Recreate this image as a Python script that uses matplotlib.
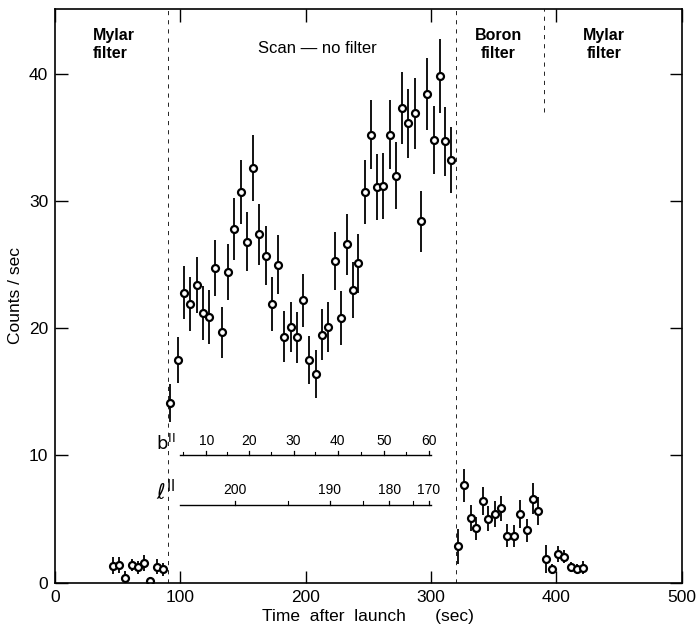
import numpy as np
import matplotlib
matplotlib.use('Agg')
import matplotlib.pyplot as plt

# Mylar filter (before scan)
t_mylar1 = [46, 51, 56, 61, 66, 71, 76, 81, 86]
c_mylar1 = [1.35, 1.4, 0.4, 1.4, 1.2, 1.55, 0.15, 1.25, 1.05]
e_mylar1 = [0.7, 0.6, 0.5, 0.5, 0.5, 0.6, 0.3, 0.6, 0.5]

# scan, no filter
t_scan = [92, 98, 103, 108, 113, 118, 123, 128, 133, 138, 143, 148, 153, 158,
          163, 168, 173, 178, 183, 188, 193, 198, 203, 208, 213, 218, 223, 228,
          233, 238, 242, 247, 252, 257, 262, 267, 272, 277, 282, 287, 292, 297,
          302, 307, 311, 316]
c_scan = [14.1, 17.5, 22.8, 21.9, 23.4, 21.2, 20.9, 24.7, 19.7, 24.4, 27.8, 30.7,
          26.8, 32.6, 27.4, 25.7, 21.9, 25.0, 19.35, 20.1, 19.3, 22.2, 17.5, 16.4,
          19.5, 20.1, 25.3, 20.8, 26.6, 23.0, 25.1, 30.7, 35.2, 31.1, 31.2, 35.2,
          32.0, 37.3, 36.1, 36.9, 28.4, 38.4, 34.8, 39.8, 34.7, 33.2]
e_scan = [1.5, 1.8, 2.1, 2.1, 2.2, 2.1, 2.1, 2.2, 2.0, 2.2, 2.4, 2.5, 2.3, 2.6,
          2.4, 2.3, 2.1, 2.3, 2.0, 2.0, 2.0, 2.1, 1.9, 1.9, 2.0, 2.0, 2.3, 2.1,
          2.4, 2.2, 2.3, 2.5, 2.7, 2.6, 2.6, 2.7, 2.6, 2.8, 2.7, 2.8, 2.4, 2.8,
          2.7, 2.9, 2.7, 2.6]

# Boron filter
t_boron = [321.5, 326.3, 331.6, 336.1, 341.1, 345.6, 350.7, 355.8, 361, 366.1,
           371.1, 376.5, 381.5, 385.7]
c_boron = [2.85, 7.65, 5.08, 4.27, 6.42, 5.03, 5.4, 5.84, 3.69, 3.67, 5.44, 4.11,
           6.6, 5.63]
e_boron = [1.4, 1.3, 1.0, 0.9, 1.1, 1.0, 1.0, 1.0, 0.9, 0.9, 1.1, 0.9, 1.2, 1.1]

# Mylar filter (after)
t_mylar2 = [391.6, 396.6, 401.4, 406.2, 411.5, 416.3, 421.3]
c_mylar2 = [1.86, 1.05, 2.25, 2.04, 1.23, 1.1, 1.18]
e_mylar2 = [1.1, 0.4, 0.6, 0.5, 0.4, 0.4, 0.5]

# galactic coordinate scales (tick value -> time)
b_major = [10, 20, 30, 40, 50, 60]
b_major_t = [120.8, 154.5, 190.3, 225.6, 262.3, 298.7]
b_minor_t = [102.2, 137.5, 172.6, 207.6, 244.3, 280.1]
l_major = [200, 190, 180, 170]
l_major_t = [143.4, 219.0, 266.8, 298.1]
l_minor_t = [185.8, 245.6, 285.4]

plt.rcParams['font.family'] = ['Liberation Sans', 'DejaVu Sans']
fig = plt.figure(figsize=(6.97, 6.3), dpi=100)
ax = fig.add_axes([0.079, 0.075, 0.899, 0.911])

style = dict(fmt='o', color='black', ecolor='black', elinewidth=1.3,
             markersize=5, markerfacecolor='white', markeredgewidth=1.6,
             capsize=0)
for t, c, e in [(t_mylar1, c_mylar1, e_mylar1), (t_scan, c_scan, e_scan),
                (t_boron, c_boron, e_boron), (t_mylar2, c_mylar2, e_mylar2)]:
    ax.errorbar(t, c, yerr=e, **style)

dash = (0, (5, 6))
ax.axvline(90, color='black', lw=0.6, ls=dash)
ax.axvline(320, color='black', lw=0.6, ls=dash)
ax.plot([390, 390], [37, 45.1], color='black', lw=0.6, ls=dash)

# b^II scale
ax.plot([100, 300], [10, 10], color='black', lw=1.0)
for t in b_major_t:
    ax.plot([t, t], [10, 10.35], color='black', lw=0.9)
for t in b_minor_t:
    ax.plot([t, t], [10, 10.25], color='black', lw=0.8)
for v, t in zip(b_major, b_major_t):
    ax.text(t, 10.6, str(v), ha='center', va='bottom', fontsize=10)
ax.text(96, 10.1, r'$\mathrm{b}^{\rm II}$', ha='right', va='bottom', fontsize=13)

# l^II scale
ax.plot([100, 300], [6.1, 6.1], color='black', lw=1.0)
for t in l_major_t:
    ax.plot([t, t], [6.1, 6.45], color='black', lw=0.9)
for t in l_minor_t:
    ax.plot([t, t], [6.1, 6.4], color='black', lw=0.8)
for v, t in zip(l_major, l_major_t):
    ax.text(t, 6.7, str(v), ha='center', va='bottom', fontsize=10)
ax.text(96, 6.2, r'$\ell^{\rm II}$', ha='right', va='bottom', fontsize=15)

# filter labels
ax.text(30, 43.6, 'Mylar\nfilter', ha='left', va='top', fontsize=11.5,
        fontweight='bold', linespacing=1.25)
ax.text(209, 42.0, 'Scan \u2014 no filter', ha='center', va='center', fontsize=12)
ax.text(353.5, 43.6, 'Boron\nfilter', ha='center', va='top', fontsize=11.5,
        fontweight='bold', linespacing=1.25)
ax.text(438, 43.6, 'Mylar\nfilter', ha='center', va='top', fontsize=11.5,
        fontweight='bold', linespacing=1.25)

ax.set_xlim(0, 500)
ax.set_ylim(0, 45.1)
ax.set_xticks([0, 100, 200, 300, 400, 500])
ax.set_yticks([0, 10, 20, 30, 40])
ax.tick_params(direction='in', length=9, width=1.0, top=True, right=True,
               labelsize=12.5, pad=5)
for s in ax.spines.values():
    s.set_linewidth(1.2)
ax.set_xlabel('Time  after  launch      (sec)', fontsize=12.5, labelpad=3)
ax.set_ylabel('Counts / sec', fontsize=12.5, labelpad=4)

plt.savefig('out.png', dpi=100)
